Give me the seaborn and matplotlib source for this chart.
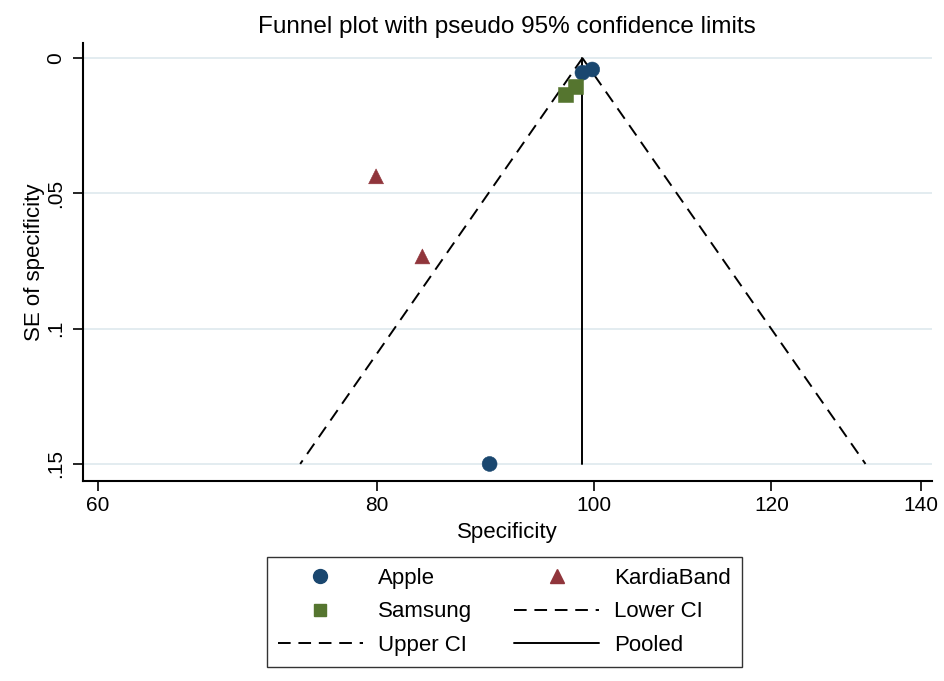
import numpy as np
import pandas as pd
import matplotlib
matplotlib.use("Agg")
import matplotlib.pyplot as plt
from matplotlib.lines import Line2D
from matplotlib.ticker import FixedLocator, FixedFormatter, NullLocator
import seaborn as sns

# ---- data ----
devices = ["Apple", "Apple", "Apple", "Samsung", "Samsung", "KardiaBand", "KardiaBand"]
specificity = [99.8, 98.8, 89.8, 97.1, 98.1, 79.9, 83.8]
se_spec = [0.0042, 0.0054, 0.150, 0.0135, 0.0105, 0.0437, 0.0733]

pooled = 98.8
ci_se = [0.0, 0.15]
lower_ci = [98.8, 73.9]
upper_ci = [98.8, 132.2]

x_ticks = [60, 80, 100, 120, 140]
y_ticks = [0, 0.05, 0.10, 0.15]
y_tick_labels = ["0", ".05", ".1", ".15"]

colors = {"Apple": "#1a476f", "Samsung": "#55752f", "KardiaBand": "#90353b"}
markers = {"Apple": "o", "Samsung": "s", "KardiaBand": "^"}

df = pd.DataFrame({"device": devices, "spec": specificity, "se": se_spec})

sns.set_style("white")
plt.rcParams["font.family"] = ["Liberation Sans", "DejaVu Sans"]
plt.rcParams["text.color"] = "black"
plt.rcParams["axes.labelcolor"] = "black"
plt.rcParams["xtick.color"] = "black"
plt.rcParams["ytick.color"] = "black"

fig = plt.figure(figsize=(9.45, 6.81), dpi=100)
ax = fig.add_axes([0.0878, 0.2937, 0.898, 0.6432])

# grid lines
for yt in y_ticks:
    ax.axhline(yt, color="#e1eaef", lw=1.3, zorder=0)

ax.set_xscale("log")

# CI lines and pooled line
dash = (0, (6.5, 4.0))
ax.plot(lower_ci, ci_se, color="black", lw=1.4, linestyle=dash, zorder=2)
ax.plot(upper_ci, ci_se, color="black", lw=1.4, linestyle=dash, zorder=2)
ax.plot([pooled, pooled], ci_se, color="black", lw=1.4, zorder=2)

sns.scatterplot(data=df, x="spec", y="se", hue="device", style="device",
                palette=colors, markers=markers, s=115, linewidth=0.4,
                edgecolor=None, legend=False, ax=ax, zorder=3)

ax.set_xlim(59.1, 141.5)
ax.set_ylim(0.1563, -0.0056)

ax.xaxis.set_major_locator(FixedLocator(x_ticks))
ax.xaxis.set_major_formatter(FixedFormatter([str(t) for t in x_ticks]))
ax.xaxis.set_minor_locator(NullLocator())
ax.set_yticks(y_ticks)
ax.set_yticklabels(y_tick_labels, rotation=90, va="center")

ax.tick_params(axis="both", which="major", length=7, width=1.2, color="black",
               labelsize=15, direction="out", bottom=True, left=True,
               labelcolor="black")
ax.tick_params(axis="y", pad=6)

for side in ["top", "right"]:
    ax.spines[side].set_visible(False)
for side in ["left", "bottom"]:
    ax.spines[side].set_color("black")
    ax.spines[side].set_linewidth(1.5)

ax.set_xlabel("Specificity", fontsize=16, labelpad=5, color="black")
ax.set_ylabel("SE of specificity", fontsize=16, labelpad=1, color="black")
ax.set_title("Funnel plot with pseudo 95% confidence limits", fontsize=17.5,
             pad=7, color="black")

handles = [
    Line2D([], [], marker="o", color=colors["Apple"], linestyle="none", markersize=10),
    Line2D([], [], marker="s", color=colors["Samsung"], linestyle="none", markersize=9),
    Line2D([], [], color="black", lw=1.4, linestyle=dash),
    Line2D([], [], marker="^", color=colors["KardiaBand"], linestyle="none", markersize=10),
    Line2D([], [], color="black", lw=1.4, linestyle=dash),
    Line2D([], [], color="black", lw=1.4),
]
labels = ["Apple", "Samsung", "Upper CI", "KardiaBand", "Lower CI", "Pooled"]
leg = fig.legend(handles, labels, ncol=2, loc="upper center",
                 bbox_to_anchor=(0.534, 0.182), fontsize=16, frameon=True,
                 fancybox=False, edgecolor="black", handlelength=3.8,
                 handletextpad=0.7, columnspacing=1.9, labelspacing=0.55,
                 borderpad=0.5, borderaxespad=0.0)
leg.get_frame().set_linewidth(1.0)
for t in leg.get_texts():
    t.set_color("black")

fig.savefig("out.png", dpi=100)
